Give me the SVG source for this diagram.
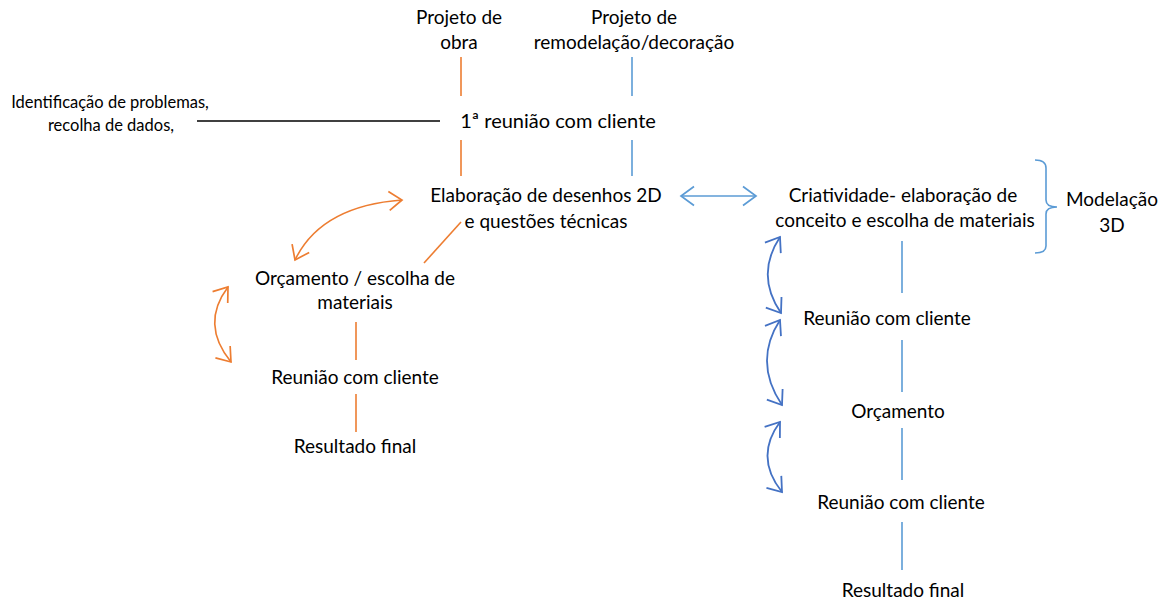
<svg xmlns="http://www.w3.org/2000/svg" width="1170" height="601" viewBox="0 0 1170 601">
<style>
text{font-family:Lato,"Noto Sans",sans-serif;font-size:19px;fill:#000;text-anchor:middle}
.sm{font-size:16.5px}
.o{stroke:#ED7D31;stroke-width:1.6;fill:none}
.b{stroke:#5B9BD5;stroke-width:1.6;fill:none}
.d{stroke:#4472C4;stroke-width:1.8;fill:none}
.k{stroke:#000;stroke-width:1.6;fill:none}
</style>
<defs>
<marker id="mo" viewBox="0 0 16 22" refX="14" refY="11" markerWidth="16" markerHeight="22" markerUnits="userSpaceOnUse" orient="auto-start-reverse"><path d="M1,1.5 L14,11 L1,20.5" fill="none" stroke="#ED7D31" stroke-width="1.7"/></marker>
<marker id="mb" viewBox="0 0 16 22" refX="14" refY="11" markerWidth="16" markerHeight="22" markerUnits="userSpaceOnUse" orient="auto-start-reverse"><path d="M1,1.5 L14,11 L1,20.5" fill="none" stroke="#5B9BD5" stroke-width="1.7"/></marker>
<marker id="md" viewBox="0 0 16 22" refX="14" refY="11" markerWidth="16" markerHeight="22" markerUnits="userSpaceOnUse" orient="auto-start-reverse"><path d="M1,1.5 L14,11 L1,20.5" fill="none" stroke="#4472C4" stroke-width="1.8"/></marker>
</defs>
<g id="connectors">
<line class="o" x1="461" y1="57" x2="461" y2="96"/>
<line class="b" x1="632" y1="57" x2="632" y2="96"/>
<line class="k" x1="197" y1="121" x2="440" y2="121"/>
<line class="o" x1="461" y1="140" x2="461" y2="176"/>
<line class="b" x1="632" y1="140" x2="632" y2="176"/>
<path class="o" d="M402,200 Q321,206 295,260" marker-start="url(#mo)" marker-end="url(#mo)"/>
<line class="o" x1="461" y1="222" x2="424" y2="263"/>
<line class="o" x1="356" y1="322" x2="356" y2="360"/>
<line class="o" x1="356" y1="394" x2="356" y2="432"/>
<path class="o" d="M228,287 Q200,324 231,362" marker-start="url(#mo)" marker-end="url(#mo)"/>
<line class="b" x1="681" y1="196" x2="756" y2="196" marker-start="url(#mb)" marker-end="url(#mb)"/>
<path class="b" d="M1035,160 Q1046,160 1046,168 L1046,200 Q1046,207 1057,207 Q1046,207 1046,214 L1046,246 Q1046,253 1035,253"/>
<line class="b" x1="902" y1="241" x2="902" y2="293"/>
<line class="b" x1="902" y1="340" x2="902" y2="392"/>
<line class="b" x1="902" y1="428" x2="902" y2="480"/>
<line class="b" x1="902" y1="522" x2="902" y2="570"/>
<path class="d" d="M780,237 Q755,275 781,313" marker-start="url(#md)" marker-end="url(#md)"/>
<path class="d" d="M780,320 Q753,362 782,405" marker-start="url(#md)" marker-end="url(#md)"/>
<path class="d" d="M780,422 Q754,457 782,492" marker-start="url(#md)" marker-end="url(#md)"/>
</g>
<g id="n-obra"><text x="459" y="24">Projeto de</text><text x="459" y="49">obra</text></g>
<g id="n-remod"><text x="634" y="24">Projeto de</text><text x="634" y="49">remodelação/decoração</text></g>
<g id="n-ident"><text class="sm" x="110" y="108">Identificação de problemas,</text><text class="sm" x="111" y="131">recolha de dados,</text></g>
<g id="n-reuniao1"><text x="558" y="128" style="font-size:20px">1ª reunião com cliente</text></g>
<g id="n-desenhos"><text x="546" y="202">Elaboração de desenhos 2D</text><text x="546" y="228">e questões técnicas</text></g>
<g id="n-orc-esc"><text x="355" y="285">Orçamento / escolha de</text><text x="355" y="309">materiais</text></g>
<g id="n-reuniao-l"><text x="355" y="384">Reunião com cliente</text></g>
<g id="n-result-l"><text x="355" y="453">Resultado final</text></g>
<g id="n-criat"><text x="903" y="202">Criatividade- elaboração de</text><text x="905" y="227">conceito e escolha de materiais</text></g>
<g id="n-model"><text x="1112" y="206">Modelação</text><text x="1112" y="232">3D</text></g>
<g id="n-reuniao-r1"><text x="887" y="325">Reunião com cliente</text></g>
<g id="n-orc-r"><text x="898" y="418">Orçamento</text></g>
<g id="n-reuniao-r2"><text x="901" y="509">Reunião com cliente</text></g>
<g id="n-result-r"><text x="903" y="597">Resultado final</text></g>
</svg>
